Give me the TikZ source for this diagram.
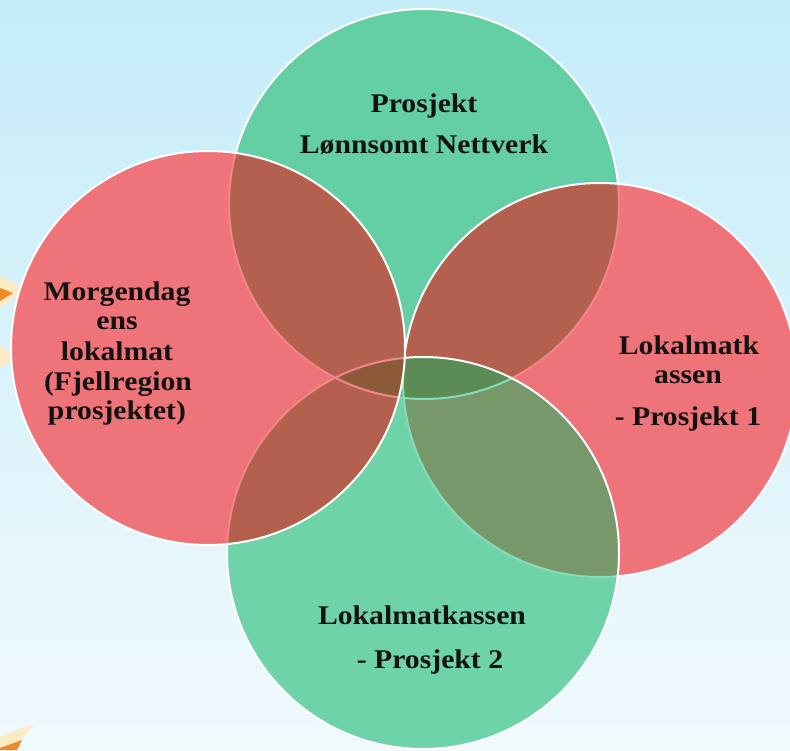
\documentclass[tikz,border=0pt]{standalone}
\usepackage{fontspec}
\newfontfamily\lblfont[FakeStretch=1.1]{Liberation Serif}
\definecolor{bgtop}{HTML}{C4ECF9}
\definecolor{bgbot}{HTML}{F1FAFD}
\definecolor{cgreenT}{HTML}{64CEA5}
\definecolor{cgreenB}{HTML}{6ED3A8}
\definecolor{cred}{HTML}{EE7479}
\definecolor{cbrown}{HTML}{B3604F}
\definecolor{colive}{HTML}{77986A}
\definecolor{cdbrown}{HTML}{8C5A38}
\definecolor{cdgreen}{HTML}{5C8C56}
\definecolor{ctb}{HTML}{52B58C}
\definecolor{tintred}{HTML}{F2868B}
\definecolor{tintgreen}{HTML}{8ADBB8}
\definecolor{glow}{HTML}{FBEBC4}
\definecolor{starorange}{HTML}{EE8B2B}
\tikzset{
  rim/.style={draw=white, line width=2pt},
  tintrimR/.style={draw=tintred, line width=2pt},
  tintrimG/.style={draw=tintgreen, line width=2pt},
  lbl/.style={font=\lblfont\bfseries\fontsize{27}{30}\selectfont, anchor=base, inner sep=0pt, text=black!93}
}
\def\cT{(424,204) circle (195)}
\def\cR{(600,380) circle (197)}
\def\cB{(423,553) circle (196)}
\def\cL{(208,348) circle (197)}
\begin{document}
\begin{tikzpicture}[x=1pt,y=-1pt]
\useasboundingbox (0,0) rectangle (790,750);
\shade[top color=bgtop, bottom color=bgbot] (0,0) rectangle (790,750);
% decorative star tips at the left edge
\fill[glow] (0,276) -- (26,289) -- (0,308) -- cycle;
\fill[starorange] (0,288) -- (13,293) -- (0,301) -- cycle;
\fill[glow] (0,346) -- (20,357) -- (0,368) -- cycle;
\fill[glow] (0,737) .. controls (12,731) and (24,727) .. (34,725) .. controls (26,734) and (18,743) .. (12,750) -- (0,750) -- cycle;
\fill[starorange] (0,748) -- (22,740) -- (17,750) -- (0,750) -- cycle;
% 1: top circle
\fill[cgreenT] \cT;
\draw[rim] \cT;
% 2: right circle
\fill[cred] \cR;
\begin{scope}
  \clip \cR;
  \fill[cbrown] \cT;
  \draw[tintrimR] \cT;
\end{scope}
\draw[rim] \cR;
% 3: bottom circle
\fill[cgreenB] \cB;
\begin{scope}
  \clip \cB;
  \fill[colive] \cR;
  \fill[ctb] \cT;
  \begin{scope}
    \clip \cT;
    \fill[cdgreen] \cR;
  \end{scope}
  \draw[tintrimG] \cT;
  \draw[tintrimG] \cR;
\end{scope}
\draw[rim] \cB;
% 4: left circle
\fill[cred] \cL;
\begin{scope}
  \clip \cL;
  \fill[cbrown] \cT;
  \fill[cbrown] \cB;
  \begin{scope}
    \clip \cT;
    \fill[cdbrown] \cB;
  \end{scope}
  \draw[tintrimR] \cT;
  \draw[tintrimR] \cB;
\end{scope}
\draw[rim] \cL;
% labels
\node[lbl] (t1) at (424,112) {Prosjekt};
\node[lbl] (t2) at (424,153) {Lønnsomt Nettverk};
\node[lbl] (l1) at (117,300) {Morgendag};
\node[lbl] (l2) at (117,329) {ens};
\node[lbl] (l3) at (117,360) {lokalmat};
\node[lbl] (l4) at (118,390) {(Fjellregion};
\node[lbl] (l5) at (117,419) {prosjektet)};
\node[lbl] (r1) at (689,354) {Lokalmatk};
\node[lbl] (r2) at (688,383) {assen};
\node[lbl] (r3) at (688,425) {- Prosjekt 1};
\node[lbl] (b1) at (422,624) {Lokalmatkassen};
\node[lbl] (b2) at (430,668) {- Prosjekt 2};
\end{tikzpicture}
\end{document}
